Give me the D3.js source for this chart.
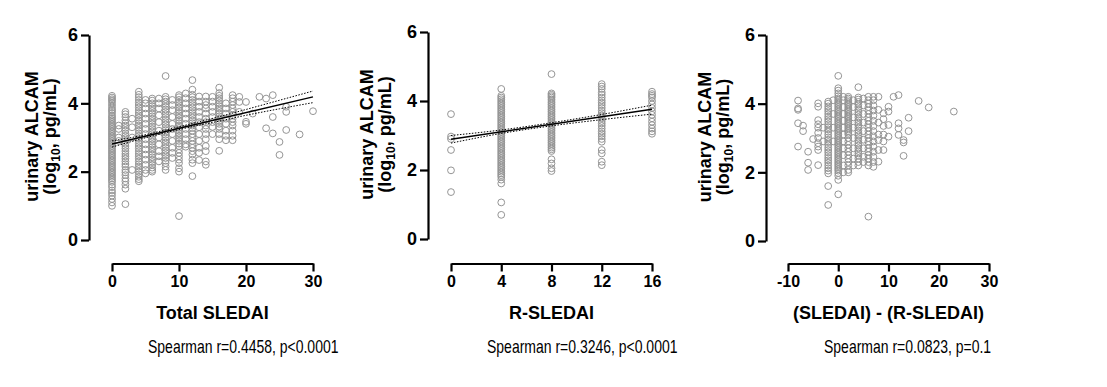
<!DOCTYPE html>
<html>
<head>
<meta charset="utf-8">
<script src="https://cdn.jsdelivr.net/npm/d3@7"></script>
<style>
  body { margin: 0; background: #fff; }
  text { font-family: Arial, "Liberation Sans", sans-serif; }
</style>
</head>
<body>
<div id="chart"></div>
<script>
// ---- data ----
// panel 1: Total SLEDAI columns and the ALCAM values in each
var totalX = [0, 1, 2, 3, 4, 5, 6, 7, 8, 9, 10, 11, 12, 13, 14, 15, 16, 17, 18, 19, 20, 21, 22, 23, 24, 25, 26, 28, 30];
var totalY = [
  [4.22,4.17,4.12,4.08,4.02,3.95,3.88,3.82,3.78,3.72,3.65,3.6,3.55,3.5,3.45,3.4,3.35,3.3,3.25,3.2,3.15,3.1,3.05,3.0,2.95,2.9,2.85,2.8,2.75,2.7,2.65,2.6,2.55,2.5,2.45,2.4,2.35,2.3,2.25,2.2,2.15,2.1,2.05,2.0,1.95,1.9,1.85,1.8,1.75,1.7,1.62,1.55,1.45,1.38,1.3,1.2,1.1,1.0],
  [3.35,3.25,3.0,2.9],
  [3.75,3.68,3.6,3.5,3.42,3.35,3.28,3.2,3.12,3.05,2.98,2.9,2.82,2.75,2.68,2.6,2.52,2.45,2.38,2.3,2.22,2.15,2.05,1.98,1.9,1.8,1.72,1.62,1.5,1.05],
  [3.55,3.3,3.0,2.05],
  [4.34,4.25,4.18,4.1,4.02,3.95,3.88,3.8,3.72,3.65,3.58,3.5,3.42,3.35,3.28,3.2,3.12,3.05,2.98,2.9,2.82,2.75,2.68,2.6,2.52,2.45,2.38,2.3,2.22,2.15,2.08,2.0,1.92,1.85,1.78,1.72],
  [4.1,4.0,3.85,3.7,3.55,3.4,3.25,3.1,2.95,2.8,2.65,2.5,2.35,2.2,2.05,1.95],
  [4.14,4.08,4.0,3.92,3.85,3.78,3.7,3.62,3.55,3.48,3.4,3.32,3.25,3.18,3.1,3.02,2.95,2.88,2.8,2.72,2.65,2.58,2.5,2.42,2.35,2.28,2.2,2.12,2.05,2.0],
  [4.14,4.0,3.85,3.65,3.45,3.2,3.0,2.8,2.6,2.45,2.3],
  [4.8,4.19,4.12,4.05,3.98,3.9,3.82,3.75,3.68,3.6,3.52,3.45,3.38,3.3,3.22,3.15,3.08,3.0,2.92,2.85,2.78,2.7,2.62,2.55,2.48,2.4,2.32,2.25,2.15,2.05],
  [4.1,3.95,3.8,3.6,3.4,3.25,3.1,2.9,2.7,2.55,2.4],
  [4.24,4.18,4.1,4.02,3.95,3.88,3.8,3.72,3.65,3.58,3.5,3.42,3.35,3.28,3.2,3.12,3.05,2.98,2.9,2.82,2.75,2.65,2.55,2.45,2.35,2.25,2.1,2.0,0.7],
  [4.29,4.15,4.0,3.85,3.7,3.55,3.4,3.25,3.1,2.95,2.8,2.73],
  [4.68,4.4,4.25,4.18,4.1,4.02,3.95,3.88,3.8,3.72,3.65,3.58,3.5,3.42,3.35,3.28,3.2,3.1,3.0,2.9,2.8,2.7,2.6,2.5,2.35,2.25,1.87],
  [4.2,4.05,3.9,3.75,3.6,3.45,3.3,3.1,2.9,2.7,2.55,2.34],
  [4.2,4.05,3.95,3.85,3.7,3.55,3.45,3.35,3.25,3.1,2.95,2.75,2.6,2.3,2.2],
  [4.19,4.05,3.9,3.75,3.6,3.45,3.31,3.1],
  [4.46,4.3,4.22,4.15,4.08,4.0,3.92,3.85,3.78,3.7,3.62,3.55,3.48,3.4,3.32,3.25,3.1,2.95,2.61],
  [4.0,3.85,3.7,3.55,3.4,3.2,3.05,2.92],
  [4.24,4.15,4.05,3.95,3.85,3.75,3.65,3.55,3.45,3.35,3.2,3.05,2.92],
  [4.19,4.04,3.75],
  [4.04,3.46,3.4],
  [3.7],
  [4.19],
  [4.14,3.27],
  [4.24,3.6,3.12],
  [2.87,2.49],
  [3.9,3.75,3.22],
  [3.09],
  [3.77]
];
// panel 2: R-SLEDAI
var rX = [0, 4, 8, 12, 16];
var rY = [
  [3.62,2.97,2.9,2.58,1.99,1.36],
  [4.35,4.15,4.1,4.05,4.0,3.95,3.9,3.85,3.8,3.75,3.7,3.65,3.6,3.55,3.5,3.45,3.4,3.35,3.3,3.25,3.2,3.15,3.1,3.05,3.0,2.95,2.9,2.85,2.8,2.75,2.7,2.65,2.6,2.55,2.5,2.45,2.4,2.35,2.3,2.25,2.2,2.15,2.1,2.05,2.0,1.95,1.9,1.85,1.8,1.72,1.61,1.06,0.7],
  [4.78,4.22,4.18,4.14,4.1,4.05,4.0,3.95,3.9,3.85,3.8,3.75,3.7,3.65,3.6,3.55,3.5,3.45,3.4,3.35,3.3,3.25,3.2,3.15,3.1,3.05,3.0,2.95,2.9,2.85,2.8,2.75,2.7,2.65,2.6,2.55,2.31,2.19,2.05,1.97],
  [4.49,4.42,4.35,4.25,4.18,4.1,4.02,3.95,3.88,3.8,3.72,3.65,3.58,3.5,3.42,3.35,3.28,3.2,3.12,3.05,2.98,2.9,2.82,2.58,2.48,2.24,2.14],
  [4.27,4.2,4.15,4.1,4.0,3.9,3.8,3.7,3.6,3.5,3.4,3.3,3.2,3.12,3.05]
];
// panel 3: (SLEDAI) - (R-SLEDAI)
var diffX = [-8, -7, -6, -5, -4, -3, -2, -1, 0, 1, 2, 3, 4, 5, 6, 7, 8, 9, 10, 11, 12, 13, 14, 16, 18, 23];
var diffY = [
  [4.09,3.86,3.82,3.43,2.75],
  [3.36,3.2],
  [2.6,2.28,2.07],
  [2.97],
  [4.01,3.91,3.52,3.4,3.3,3.15,3.0,2.85,2.75,2.65,2.21],
  [3.3,2.9],
  [4.06,4.0,3.92,3.85,3.78,3.7,3.62,3.55,3.48,3.4,3.32,3.25,3.18,3.1,3.02,2.95,2.88,2.8,2.72,2.65,2.58,2.5,2.42,2.35,2.28,2.2,2.12,2.05,1.97,1.6,1.05],
  [4.1,3.7,3.3,2.9],
  [4.81,4.45,4.38,4.3,4.22,4.15,4.1,4.05,4.0,3.95,3.9,3.85,3.8,3.75,3.7,3.65,3.6,3.55,3.5,3.45,3.4,3.35,3.3,3.25,3.2,3.15,3.1,3.05,3.0,2.95,2.9,2.85,2.8,2.75,2.7,2.65,2.6,2.55,2.5,2.45,2.4,2.35,2.3,2.25,2.2,2.15,2.1,2.05,1.98,1.9,1.78,1.36],
  [4.2,4.1,3.9,3.7,3.5,3.3,3.1,2.9,2.7,2.5,2.2,2.0],
  [4.2,4.15,4.1,4.05,4.0,3.95,3.9,3.85,3.8,3.75,3.7,3.65,3.6,3.55,3.5,3.45,3.4,3.35,3.3,3.25,3.2,3.15,3.1,3.0,2.9,2.8,2.7,2.6,2.5,2.4,2.3,2.2,2.07,2.0],
  [4.1,3.9,3.6,3.3,3.0,2.7,2.4,2.2],
  [4.48,4.18,4.12,4.05,3.98,3.9,3.82,3.75,3.68,3.6,3.52,3.45,3.38,3.3,3.22,3.15,3.08,3.0,2.92,2.85,2.78,2.7,2.62,2.55,2.48,2.4,2.3,2.2],
  [4.15,3.95,3.7,3.45,3.2,2.95,2.7,2.45,2.3],
  [4.2,4.1,4.0,3.9,3.8,3.7,3.6,3.5,3.4,3.3,3.2,3.1,3.0,2.9,2.8,2.7,2.6,2.5,2.4,2.3,2.2,0.71],
  [4.2,4.1,3.95,3.8,3.65,3.5,3.35,3.2,3.05,2.9,2.75,2.6,2.45,2.3,2.16],
  [4.2,3.82,3.45,3.1,2.94,2.65,2.31],
  [3.72,3.55,3.35,3.1,2.9,2.65],
  [3.91,3.77,3.38,3.04],
  [4.2],
  [4.25,3.43,3.28,3.09],
  [2.94,2.87,2.48],
  [3.59,3.2],
  [4.08],
  [3.89],
  [3.77]
];

// regression lines and 95% bands (read at a few x positions)
var fit1X = [0, 30], fit1Y = [2.81, 4.19];
var ci1X = [0, 4, 8, 12, 16, 20, 25, 30];
var ci1Up = [2.90, 3.04, 3.22, 3.41, 3.61, 3.82, 4.09, 4.36];
var ci1Lo = [2.72, 2.94, 3.14, 3.32, 3.48, 3.65, 3.84, 4.02];
var fit2X = [0, 16], fit2Y = [2.89, 3.76];
var ci2X = [0, 4, 8, 12, 16];
var ci2Up = [3.00, 3.16, 3.37, 3.61, 3.88];
var ci2Lo = [2.78, 3.06, 3.28, 3.46, 3.62];

var xTitles = ["Total SLEDAI", "R-SLEDAI", "(SLEDAI) - (R-SLEDAI)"];
var statTexts = ["Spearman r=0.4458, p<0.0001", "Spearman r=0.3246, p<0.0001", "Spearman r=0.0823, p=0.1"];
var xTicks = [[0, 10, 20, 30], [0, 4, 8, 12, 16], [-10, 0, 10, 20, 30]];
var xDomains = [[0, 30], [0, 16], [-10, 30]];
var yTicks = [0, 2, 4, 6];

// ---- layout ----
var width = 1107, height = 387;
var layout = [
  {yAxisX: 89, yTop: 35, yBot: 240, x0: 112, x1: 313, titleX: 38},
  {yAxisX: 428, yTop: 32, yBot: 239, x0: 451, x1: 652, titleX: 373},
  {yAxisX: 766, yTop: 35, yBot: 241, x0: 788, x1: 989, titleX: 711}
];
var xAxisY = 263.5;

var svg = d3.select("#chart").append("svg")
    .attr("width", width)
    .attr("height", height);

var panels = [
  {xs: totalX, ys: totalY, fitX: fit1X, fitY: fit1Y, ciX: ci1X, ciUp: ci1Up, ciLo: ci1Lo},
  {xs: rX, ys: rY, fitX: fit2X, fitY: fit2Y, ciX: ci2X, ciUp: ci2Up, ciLo: ci2Lo},
  {xs: diffX, ys: diffY}
];

panels.forEach(function (p, i) {
    var L = layout[i];
    var x = d3.scaleLinear().domain(xDomains[i]).range([L.x0, L.x1]);
    var y = d3.scaleLinear().domain([0, 6]).range([L.yBot, L.yTop]);
    var g = svg.append("g");

    // points
    var pts = [];
    p.xs.forEach(function (xv, k) {
        p.ys[k].forEach(function (yv) { pts.push([xv, yv]); });
    });
    g.selectAll("circle")
        .data(pts)
        .enter().append("circle")
        .attr("cx", function (d) { return x(d[0]); })
        .attr("cy", function (d) { return y(d[1]); })
        .attr("r", 3.4)
        .style("fill", "none")
        .style("stroke", "#959595")
        .style("stroke-width", 1);

    // regression + CI
    if (p.fitX) {
        var line = d3.line()
            .x(function (d) { return x(d[0]); })
            .y(function (d) { return y(d[1]); });
        var curve = d3.line()
            .x(function (d) { return x(d[0]); })
            .y(function (d) { return y(d[1]); })
            .curve(d3.curveMonotoneX);
        g.append("path")
            .attr("d", line(p.fitX.map(function (v, k) { return [v, p.fitY[k]]; })))
            .style("fill", "none").style("stroke", "#000").style("stroke-width", 1.4);
        [p.ciUp, p.ciLo].forEach(function (arr) {
            g.append("path")
                .attr("d", curve(p.ciX.map(function (v, k) { return [v, arr[k]]; })))
                .style("fill", "none").style("stroke", "#000")
                .style("stroke-width", 1).style("stroke-dasharray", "1.5,1.5");
        });
    }

    // y axis
    var ya = g.append("g")
        .attr("transform", "translate(" + L.yAxisX + ",0)")
        .call(d3.axisLeft(y).tickValues(yTicks).tickSize(8).tickSizeOuter(0).tickPadding(3)
            .tickFormat(function (d) { return String(d); }));
    // x axis
    var xa = g.append("g")
        .attr("transform", "translate(0," + xAxisY + ")")
        .call(d3.axisBottom(x).tickValues(xTicks[i]).tickSize(8).tickSizeOuter(0).tickPadding(4)
            .tickFormat(function (d) { return String(d); }));
    [ya, xa].forEach(function (a) {
        a.select(".domain").style("stroke", "#000").style("stroke-width", 2.2);
        a.selectAll(".tick line").style("stroke", "#000").style("stroke-width", 2.2);
        a.selectAll(".tick text")
            .style("font-family", "Arial, 'Liberation Sans', sans-serif")
            .style("font-weight", "bold").style("fill", "#000");
    });
    ya.selectAll(".tick text").style("font-size", "18px");
    xa.selectAll(".tick text").style("font-size", "16px");

    // y title
    var cy = (L.yTop + L.yBot) / 2 - 1;
    g.append("text")
        .attr("transform", "translate(" + L.titleX + "," + cy + ") rotate(-90)")
        .attr("text-anchor", "middle")
        .style("font-size", "18px").style("font-weight", "bold")
        .text("urinary ALCAM");
    var t2 = g.append("text")
        .attr("transform", "translate(" + (L.titleX + 18) + "," + cy + ") rotate(-90)")
        .attr("text-anchor", "middle")
        .style("font-size", "18px").style("font-weight", "bold");
    t2.append("tspan").text("(log");
    t2.append("tspan").attr("dy", 4).style("font-size", "12px").text("10");
    t2.append("tspan").attr("dy", -4).text(", pg/mL)");

    // x title
    g.append("text")
        .attr("x", (L.x0 + L.x1) / 2)
        .attr("y", 319)
        .attr("text-anchor", "middle")
        .style("font-size", "18px").style("font-weight", "bold")
        .text(xTitles[i]);

    // stats (narrow face in the original, so squeeze horizontally)
    g.append("text")
        .attr("transform", "translate(" + (L.x0 + 36) + ",353) scale(0.8,1)")
        .style("font-size", "17.5px")
        .text(statTexts[i]);
});
</script>
</body>
</html>
